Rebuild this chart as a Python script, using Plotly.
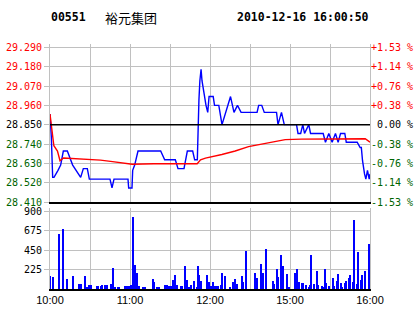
import plotly.graph_objects as go

# ---------------- data ----------------
CODE = "00551"
NAME = "裕元集团"
STAMP = "2010-12-16 16:00:50"
PREV_CLOSE = 28.850

# minute index from 10:00 (0 .. 240), last-trade price
PRICE_MIN = [0, 1, 2, 3, 6, 8, 10, 13, 17, 23, 25, 28, 29.5, 45, 46.5, 48, 58.5, 59, 61.5, 62, 63.5, 66,
             83, 86, 94, 96, 100.5, 103, 107, 108.5, 110.5, 111, 111.7, 112.4, 113.3, 114, 115.1, 117,
             118.3, 119.3, 122.4, 123.4, 126.6, 129, 135.4, 138, 140.6, 143.3, 155.3, 156.5, 158.8,
             160.7, 169.9, 171, 173.6, 175.7, 184.9, 186, 188, 189.6, 190.9, 194.1, 195.4, 204.9,
             206.6, 209.1, 211.6, 214.1, 216.1, 217.9, 221.1, 222.2, 230.4, 232.6, 233.5, 234.4,
             235.9, 236.9, 238.1, 239.4, 240]
PRICE = [28.91, 28.78, 28.55, 28.55, 28.59, 28.62, 28.70, 28.70, 28.62, 28.55, 28.60, 28.60, 28.54,
         28.54, 28.49, 28.54, 28.54, 28.49, 28.49, 28.59, 28.62, 28.70, 28.70, 28.65, 28.65, 28.60,
         28.60, 28.70, 28.70, 28.65, 28.65, 28.86, 28.99, 29.10, 29.165, 29.10, 29.04, 28.96, 28.92,
         29.01, 29.01, 28.96, 28.96, 28.85, 29.01, 28.92, 28.96, 28.92, 28.92, 28.96, 28.96, 28.92,
         28.92, 28.85, 28.92, 28.85, 28.85, 28.80, 28.80, 28.85, 28.80, 28.85, 28.80, 28.80, 28.75,
         28.80, 28.75, 28.80, 28.75, 28.80, 28.80, 28.75, 28.75, 28.72, 28.72, 28.645, 28.57, 28.54,
         28.59, 28.54, 28.57]

# average price
AVG_MIN = [0, 2.9, 5.6, 7.5, 10.1, 25.1, 37.9, 46.9, 59.3, 61.6, 77.9, 110.4, 112.9, 116.6, 128.9,
           138.9, 148.9, 158.9, 168.9, 176.4, 188.6, 236.4, 240]
AVG = [28.91, 28.73, 28.70, 28.645, 28.66, 28.655, 28.648, 28.64, 28.63, 28.625, 28.628, 28.628,
       28.65, 28.66, 28.68, 28.70, 28.725, 28.74, 28.755, 28.765, 28.768, 28.77, 28.75]

# volume per minute
VOL_MIN = [0, 2, 7, 10, 13, 17, 22, 23, 26, 28, 29, 31, 35, 36, 38, 39, 41, 43, 46, 47, 49, 51, 52,
           56, 58, 59, 61, 62, 64, 65, 67, 70, 71, 77, 78, 80, 81, 82, 86, 88, 89, 91, 92, 94, 95,
           98, 99, 101, 103, 104, 106, 108, 110, 111, 112, 113, 118, 119, 121, 122, 124, 125, 126,
           128, 129, 131, 135, 137, 139, 140, 144, 145, 147, 154, 155, 158, 159, 160, 162, 167, 168,
           170, 171, 173, 175, 178, 179, 184, 185, 187, 189, 190, 192, 194, 195, 196, 198, 200, 201,
           204, 205, 206, 207, 209, 212, 213, 215, 216, 218, 219, 221, 222, 224, 225, 227, 228, 230,
           231, 233, 234, 236, 239, 240]
VOL = [153, 142, 640, 693, 119, 153, 61, 61, 153, 27, 50, 50, 38, 38, 38, 50, 50, 50, 61, 245, 27,
       27, 27, 38, 38, 38, 50, 831, 280, 180, 38, 27, 27, 119, 77, 27, 27, 27, 50, 50, 38, 38, 107,
       165, 50, 38, 38, 268, 107, 27, 50, 88, 27, 268, 165, 96, 165, 77, 38, 84, 38, 38, 38, 50, 188,
       153, 27, 84, 119, 61, 153, 84, 440, 188, 130, 291, 27, 188, 463, 96, 61, 234, 142, 395, 268,
       176, 27, 188, 234, 84, 73, 73, 50, 27, 50, 395, 61, 211, 50, 38, 27, 234, 73, 38, 130, 38, 96,
       176, 73, 27, 73, 96, 130, 165, 84, 797, 61, 429, 107, 165, 211, 521, 463]

PRICE_TICKS = [28.410, 28.520, 28.630, 28.740, 28.850, 28.960, 29.070, 29.180, 29.290]
VOL_TICKS = [225, 450, 675, 900]
TIME_TICKS = [0, 30, 60, 90, 120, 150, 180, 210, 240]
TIME_LABELS = ["10:00", "", "11:00", "", "12:00", "", "15:00", "", "16:00"]

# ---------------- styling ----------------
RED = "#ff0000"
GREEN = "#006400"
GRID = "#c0c0c0"
MONO = "DejaVu Sans Mono"


def colour_for(v):
    if v > PREV_CLOSE + 1e-9:
        return RED
    if v < PREV_CLOSE - 1e-9:
        return GREEN
    return "#000000"


left_text = [f'<span style="color:{colour_for(v)}">{v:.3f}</span>' for v in PRICE_TICKS]
right_text = []
for v in PRICE_TICKS:
    pct = (v - PREV_CLOSE) / PREV_CLOSE * 100
    if abs(pct) < 1e-9:
        s = "\u00a00.00 %"
    else:
        s = f"{pct:+.2f} %"
    right_text.append(f'<span style="color:{colour_for(v)}">{s}</span>')

fig = go.Figure()
fig.add_trace(go.Scatter(x=PRICE_MIN, y=PRICE, mode="lines", line=dict(color="#0000ff", width=1.4),
                         xaxis="x", yaxis="y", showlegend=False))
fig.add_trace(go.Scatter(x=AVG_MIN, y=AVG, mode="lines", line=dict(color=RED, width=1.4),
                         xaxis="x", yaxis="y", showlegend=False))
fig.add_trace(go.Bar(x=VOL_MIN, y=VOL, width=0.75, marker=dict(color="#0000ff", line=dict(width=0)),
                     xaxis="x2", yaxis="y2", showlegend=False))
# invisible trace to activate right axis
fig.add_trace(go.Scatter(x=[0], y=[PREV_CLOSE], mode="markers", marker=dict(opacity=0),
                         xaxis="x", yaxis="y3", showlegend=False, hoverinfo="skip"))

fig.add_shape(type="line", xref="x", yref="y", x0=0, x1=240, y0=PREV_CLOSE, y1=PREV_CLOSE,
              line=dict(color="#000000", width=1.5), layer="above")

PRICE_RANGE = [28.41, 29.309]
PRICE_DOMAIN = [(289 - 202) / 245, 1.0]
VOL_DOMAIN = [0.0, (289 - 208) / 245]

fig.update_layout(
    width=414, height=314,
    margin=dict(l=50, r=44, t=44, b=25, autoexpand=False),
    paper_bgcolor="#ffffff", plot_bgcolor="#ffffff",
    bargap=0,
    xaxis=dict(domain=[0, 1], anchor="y", range=[0, 240], tickvals=TIME_TICKS, automargin=False,
               showticklabels=False, showgrid=True, gridcolor=GRID, gridwidth=1,
               showline=True, linecolor="#000000", linewidth=2, zeroline=False, ticks=""),
    yaxis=dict(domain=PRICE_DOMAIN, anchor="x", range=PRICE_RANGE, tickvals=PRICE_TICKS,
               ticktext=left_text, showgrid=True, gridcolor=GRID, gridwidth=1, automargin=False,
               showline=True, linecolor=GRID, linewidth=1, mirror=True, zeroline=False,
               ticks="outside", ticklen=5, tickcolor=GRID,
               tickfont=dict(family=MONO, size=10)),
    yaxis3=dict(overlaying="y", side="right", anchor="x", range=PRICE_RANGE, tickvals=PRICE_TICKS,
                ticktext=right_text, showgrid=False, showline=False, zeroline=False, ticks="",
                automargin=False, tickfont=dict(family=MONO, size=10)),
    xaxis2=dict(domain=[0, 1], anchor="y2", matches="x", range=[0, 240], tickvals=TIME_TICKS,
                ticktext=TIME_LABELS, showgrid=True, gridcolor=GRID, gridwidth=1, automargin=False,
                showline=True, linecolor="#000000", linewidth=1.5, zeroline=False, ticks="",
                tickfont=dict(family="Liberation Sans", size=11, color="#000000")),
    yaxis2=dict(domain=VOL_DOMAIN, anchor="x2", range=[0, 935], tickvals=VOL_TICKS,
                showgrid=True, gridcolor=GRID, gridwidth=1, automargin=False,
                showline=True, linecolor=GRID, linewidth=1, mirror=True, zeroline=False,
                ticks="outside", ticklen=5, tickcolor=GRID,
                tickfont=dict(family=MONO, size=10, color="#000000")),
    annotations=[
        dict(text=f"<b>{CODE}</b>", xref="paper", yref="paper", x=0, y=(289 - 17) / 245,
             xanchor="left", yanchor="middle", showarrow=False, borderpad=0,
             font=dict(family=MONO, size=11.5, color="#000000")),
        dict(text=NAME, xref="paper", yref="paper", x=(104 - 50) / 320, y=(289 - 17) / 245,
             xanchor="left", yanchor="middle", showarrow=False, borderpad=0,
             font=dict(family="Noto Sans CJK SC", size=13, color="#000000")),
        dict(text=f"<b>{STAMP}</b>", xref="paper", yref="paper", x=1.0, y=(289 - 17) / 245,
             xanchor="right", yanchor="middle", showarrow=False, borderpad=0,
             font=dict(family=MONO, size=11.5, color="#000000")),
    ],
)

fig.write_html("out.html")
